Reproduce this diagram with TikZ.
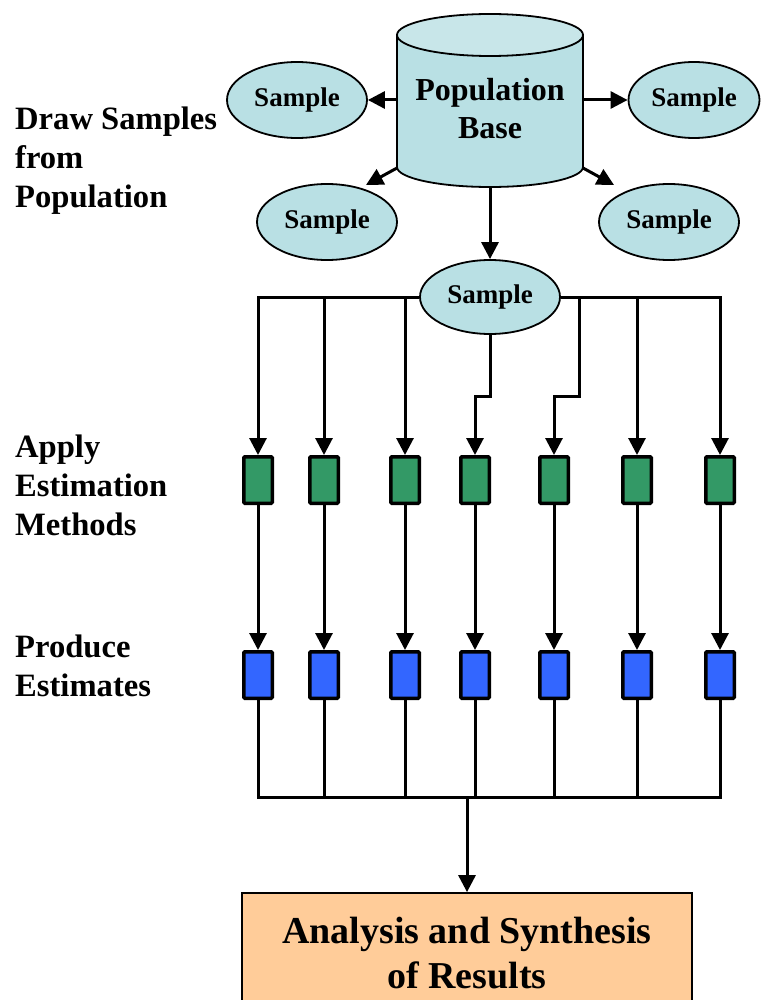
\documentclass[tikz,border=0pt]{standalone}
\usepackage{fontspec}
\setmainfont{Liberation Serif}
\usetikzlibrary{shapes.geometric,arrows.meta}
\definecolor{samplefill}{HTML}{B9E0E4}
\definecolor{cyltop}{HTML}{C8E6E9}
\definecolor{methfill}{HTML}{339966}
\definecolor{estfill}{HTML}{3366FF}
\definecolor{resfill}{HTML}{FFCC99}
\begin{document}
\begin{tikzpicture}[x=1pt,y=-1pt,
 samp/.style={ellipse, draw, line width=1.8pt, fill=samplefill, minimum width=140pt, minimum height=76pt, inner sep=0pt, font=\bfseries\fontsize{27}{30}\selectfont},
 meth/.style={draw, line width=3.5pt, fill=methfill, minimum width=28.5pt, minimum height=46.5pt, inner sep=0pt, rounded corners=1pt},
 est/.style={meth, fill=estfill},
 lbl/.style={anchor=west, align=left, font=\bfseries\fontsize{32.6}{39}\selectfont, inner sep=0pt},
 conn/.style={line width=3pt},
 arr/.style={conn, -{Triangle[length=17pt,width=17pt]}},
]
\useasboundingbox (0,0) rectangle (760,1000);
% cylinder
\path[draw, line width=1.8pt, fill=samplefill] (397,35) -- (397,167) arc[start angle=180, end angle=0, x radius=93, y radius=20] -- (583,35) -- cycle;
\draw[line width=1.8pt, fill=cyltop] (490,35) ellipse [x radius=93, y radius=21];
\node[minimum width=186pt, minimum height=174pt, inner sep=0pt, outer sep=0pt] (pop) at (490,100) {};
\node[align=center, font=\bfseries\fontsize{32}{38}\selectfont, inner sep=0pt] (popText) at (490,109) {Population\\Base};
\coordinate (popSW) at (397,168);
\coordinate (popSE) at (583,168);
\coordinate (dl) at (366,185);
\coordinate (dr) at (614,185);
% samples
\node[samp] (s1) at (297,100) {Sample};
\node[samp, minimum width=131pt] (s2) at (694,100) {Sample};
\node[samp] (s3) at (327,222) {Sample};
\node[samp] (s4) at (669,222) {Sample};
\node[samp, minimum height=74pt] (s5) at (490,297) {Sample};
\draw[arr] (pop.west) -- (s1.east);
\draw[arr] (pop.east) -- (s2.west);
\draw[arr] (popSW) -- (dl);
\draw[arr] (popSE) -- (dr);
\draw[arr] (pop.south) -- (s5.north);
% method and estimate boxes
\foreach \i/\x in {1/258,2/324,3/405,4/475,5/554,6/637,7/720}{
  \node[meth] (g\i) at (\x,480) {};
  \node[est] (b\i) at (\x,675) {};
  \draw[arr] (g\i.south) -- (b\i.north);
}
\draw[arr] (s5.west) -| (g1.north);
\draw[arr] (s5.west) -| (g2.north);
\draw[arr] (s5.west) -| (g3.north);
\draw[arr] (s5.south) |- (g4.north |- 0,396) -- (g4.north);
\draw[arr] (s5.east) -| (579,396) -| (g5.north);
\draw[arr] (s5.east) -| (g6.north);
\draw[arr] (s5.east) -| (g7.north);
% results
\node[draw, line width=1.8pt, fill=resfill, minimum width=450pt, minimum height=120pt, align=center, inner sep=0pt, font=\bfseries\fontsize{38}{45}\selectfont] (res) at (467,953) {Analysis and Synthesis\\of Results};
\coordinate (bus) at (467,797);
\foreach \i in {1,...,7}{ \draw[conn] (b\i.south) |- (bus); }
\draw[arr] (bus) -- (res.north);
% labels
\node[lbl] (l1) at (15,161) {Draw Samples\\from\\Population};
\node[lbl] (l2) at (15,485) {Apply\\Estimation\\Methods};
\node[lbl] (l3) at (15,666) {Produce\\Estimates};
\end{tikzpicture}
\end{document}
